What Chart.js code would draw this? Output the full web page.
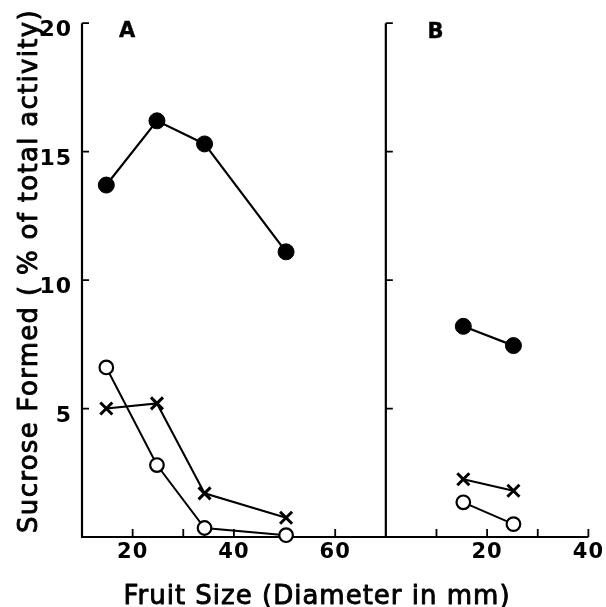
<!DOCTYPE html>
<html>
<head>
<meta charset="utf-8">
<title>Sucrose formed vs fruit size</title>
<script src="https://cdn.jsdelivr.net/npm/chart.js@4.4.1/dist/chart.umd.min.js"></script>
<style>
  html, body { margin: 0; padding: 0; background: #fff; }
  #wrap { width: 606px; height: 607px; }
</style>
</head>
<body>
<div id="wrap"><canvas id="grafico"></canvas></div>
<script>
// values
const sizesA = [14.8, 24.8, 34.2, 50.3];   // fruit diameter (mm), panel A
const sizesB = [15.3, 25.2];               // panel B
const solidA = [13.7, 16.2, 15.3, 11.1];
const openA  = [6.6, 2.8, 0.35, 0.07];
const crossA = [5.0, 5.2, 1.7, 0.75];
const solidB = [8.2, 7.45];
const openB  = [1.35, 0.5];
const crossB = [2.25, 1.8];
const yTicks  = [5, 10, 15, 20];
const xTicksA = [20, 40, 60];
const xTicksB = [20, 40];

const FONT = "'DejaVu Sans', sans-serif";

function pts(xs, ys) {
    return xs.map((x, i) => ({ x: x, y: ys[i] }));
}

function serie(xs, ys, eje, tipo) {
    const base = {
        data: pts(xs, ys), xAxisID: eje, yAxisID: 'y',
        borderColor: '#000', pointBorderColor: '#000',
        showLine: true, clip: false
    };
    if (tipo === 'solid') {
        return Object.assign(base, { borderWidth: 2.2, pointStyle: 'circle', pointRadius: 8,
            pointBackgroundColor: '#000', pointBorderWidth: 1 });
    }
    if (tipo === 'open') {
        return Object.assign(base, { borderWidth: 2, pointStyle: 'circle', pointRadius: 6.8,
            pointBackgroundColor: '#fff', pointBorderWidth: 2.2 });
    }
    return Object.assign(base, { borderWidth: 2, pointStyle: 'crossRot', pointRadius: 8.5,
        pointBackgroundColor: '#000', pointBorderWidth: 3 });
}

// thicker lettering, like the stencil text of the original
function texto(ctx, s, x, y) {
    ctx.fillText(s, x, y);
    ctx.strokeText(s, x, y);
}

// axis lines, inward ticks and titles
const ejes = {
    id: 'ejes',
    beforeDraw(chart) {
        chart.ctx.letterSpacing = '1px';
    },
    beforeDatasetsDraw(chart) {
        const { ctx, chartArea: a, scales } = chart;
        const y = scales.y, xA = scales.xA, xB = scales.xB;
        const top = y.getPixelForValue(20);
        ctx.save();
        ctx.strokeStyle = '#000';
        ctx.lineWidth = 2.2;
        ctx.beginPath();
        ctx.moveTo(a.left, top); ctx.lineTo(a.left, a.bottom);
        ctx.moveTo(xB.left, top); ctx.lineTo(xB.left, a.bottom);
        ctx.moveTo(a.left - 1, a.bottom); ctx.lineTo(a.right, a.bottom);
        ctx.stroke();

        ctx.lineWidth = 1.8;
        ctx.beginPath();
        yTicks.forEach(v => {
            const py = y.getPixelForValue(v);
            [a.left, xB.left].forEach(px => { ctx.moveTo(px, py); ctx.lineTo(px + 7, py); });
        });
        xA.ticks.forEach(t => {
            if (t.value > xA.min && t.value < xA.max) {
                const px = xA.getPixelForValue(t.value);
                ctx.moveTo(px, a.bottom); ctx.lineTo(px, a.bottom - 8);
            }
        });
        xB.ticks.forEach(t => {
            if (t.value > xB.min) {
                const px = xB.getPixelForValue(t.value);
                ctx.moveTo(px, a.bottom); ctx.lineTo(px, a.bottom - 8);
            }
        });
        ctx.stroke();
        ctx.restore();
    },
    afterDraw(chart) {
        const { ctx, scales } = chart;
        ctx.save();
        ctx.fillStyle = '#000';
        ctx.strokeStyle = '#000';
        ctx.lineJoin = 'round';
        ctx.textBaseline = 'alphabetic';
        ctx.textAlign = 'center';

        ctx.font = 'bold 21px ' + FONT;
        ctx.letterSpacing = '0px';
        ctx.lineWidth = 0.4;
        texto(ctx, 'A', scales.xA.getPixelForValue(18.9), 37);
        texto(ctx, 'B', scales.xB.getPixelForValue(9.8), 38);

        ctx.font = '26px ' + FONT;
        ctx.letterSpacing = '1px';
        ctx.lineWidth = 0.9;
        texto(ctx, 'Fruit Size (Diameter in mm)', 317, 604);

        ctx.translate(37, 271);
        ctx.rotate(-Math.PI / 2);
        ctx.letterSpacing = '1.3px';
        texto(ctx, 'Sucrose Formed ( % of total activity)', 0, 0);
        ctx.restore();
    }
};

function ejeX(min, max, peso, etiquetas) {
    return {
        type: 'linear', position: 'bottom', stack: 'fondo', stackWeight: peso,
        min: min, max: max,
        grid: { display: false, drawTicks: false },
        border: { display: false },
        ticks: {
            stepSize: 10, autoSkip: false, maxRotation: 0, padding: 3, color: '#000',
            font: { family: FONT, size: 21, weight: 'bold' },
            callback: v => etiquetas.includes(v) ? String(v) : ''
        },
        afterFit: s => { s.height = 70; }
    };
}

document.addEventListener("DOMContentLoaded", function () {
    const ctx = document.getElementById("grafico").getContext("2d");
    new Chart(ctx, {
        type: "scatter",
        data: {
            datasets: [
                serie(sizesA, solidA, 'xA', 'solid'),
                serie(sizesA, crossA, 'xA', 'cross'),
                serie(sizesA, openA, 'xA', 'open'),
                serie(sizesB, solidB, 'xB', 'solid'),
                serie(sizesB, crossB, 'xB', 'cross'),
                serie(sizesB, openB, 'xB', 'open')
            ]
        },
        options: {
            responsive: true,
            maintainAspectRatio: false,
            animation: false,
            events: [],
            layout: { padding: { top: 18, right: 15, bottom: 0, left: 0 } },
            plugins: {
                legend: { display: false },
                tooltip: { enabled: false }
            },
            scales: {
                xA: ejeX(10, 70, 60, xTicksA),
                xB: ejeX(0, 40, 40, xTicksB),
                y: {
                    type: 'linear', position: 'left', min: 0, max: 20,
                    grid: { display: false, drawTicks: false },
                    border: { display: false },
                    ticks: {
                        stepSize: 5, padding: 10, labelOffset: 7.5, color: '#000',
                        font: { family: FONT, size: 22, weight: 'bold' },
                        callback: v => yTicks.includes(v) ? String(v) : ''
                    },
                    afterFit: s => { s.width = 82; }
                }
            }
        },
        plugins: [ejes]
    });
});
</script>
</body>
</html>
